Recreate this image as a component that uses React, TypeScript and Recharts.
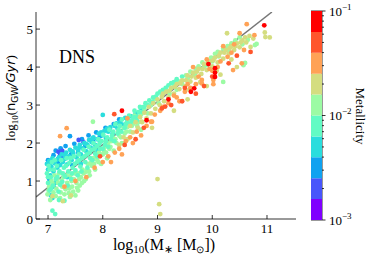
import { Bar, BarChart, ComposedChart, Line, ReferenceArea, Scatter, XAxis, YAxis } from 'recharts';

// metallicity bins, log10(Z) from -3 to -1 in 0.2 dex steps, rainbow colours
const CBAR_EDGES = [-3, -2.8, -2.6, -2.4, -2.2, -2, -1.8, -1.6, -1.4, -1.2, -1];
const BIN_COLORS = ['#8000ff', '#4856fb', '#10a2f0', '#2adddd', '#62fbc4', '#9cfba4', '#d4dd80', '#ffa256', '#ff562c', '#ff0000'];

type Pt = [number, number];

// [log10 M*, log10 nGW] per metallicity bin
const binIndigo: Pt[] = [
  [7.19, 1.77], [7.26, 1.79], [7.29, 1.66], [7.56, 2.08], [7.22, 1.68], [7.65, 2.02],
];
const binBlue: Pt[] = [
  [7.0, 1.55], [7.05, 1.35], [7.1, 1.68], [7.14, 1.8], [7.18, 1.48], [7.23, 1.86], [7.28, 1.62],
  [7.32, 1.92], [7.4, 2.18], [7.42, 1.7], [7.48, 1.98], [7.55, 1.75], [7.62, 2.1], [7.68, 1.92],
  [7.74, 2.2], [7.82, 2.05], [7.88, 2.28], [7.95, 2.18], [8.05, 2.4], [8.12, 2.35], [8.2, 2.5],
  [7.02, 1.05], [7.1, 0.85], [7.44, 1.42], [8.3, 2.62],
];
const binCyan: Pt[] = [
  [6.98, 1.45], [7.0, 1.3], [7.02, 1.52], [7.04, 1.15], [7.06, 1.38], [7.08, 1.6], [7.1, 1.25],
  [7.12, 1.47], [7.15, 1.55], [7.17, 1.35], [7.2, 1.62], [7.22, 1.42], [7.25, 1.7], [7.27, 1.5],
  [7.3, 1.58], [7.33, 1.75], [7.35, 1.44], [7.38, 1.65], [7.4, 1.82], [7.43, 1.55], [7.46, 1.72],
  [7.5, 1.88], [7.52, 1.62], [7.55, 1.8], [7.58, 1.95], [7.6, 1.7], [7.63, 1.86], [7.66, 2.0],
  [7.7, 1.78], [7.72, 1.95], [7.75, 2.08], [7.78, 1.88], [7.8, 2.02], [7.83, 2.15], [7.86, 1.95],
  [7.9, 2.1], [7.93, 2.25], [7.96, 2.05], [8.0, 2.2], [8.03, 2.32], [8.06, 2.12], [8.1, 2.3],
  [8.14, 2.42], [8.18, 2.25], [8.22, 2.45], [8.27, 2.38], [8.32, 2.55], [8.38, 2.48], [8.45, 2.62],
  [8.52, 2.7], [8.6, 2.78], [8.7, 2.92], [8.0, 2.74], [7.13, 0.95], [7.05, 0.62], [7.08, 0.55],
  [7.35, 1.1], [7.6, 1.45], [7.9, 1.8],
  [7.03, 1.42], [7.18, 1.58], [7.31, 1.68], [7.45, 1.78], [7.57, 1.88], [7.69, 1.98], [7.81, 2.12],
  [7.97, 2.28], [8.08, 2.38], [8.25, 2.52], [8.41, 2.66],
];
const binAqua: Pt[] = [
  [6.98, 1.2], [7.0, 0.95], [7.01, 1.4], [7.03, 0.75], [7.05, 1.1], [7.07, 1.5], [7.09, 0.88],
  [7.11, 1.3], [7.08, 0.22], [7.13, 0.13], [7.14, 1.05], [7.16, 1.4], [7.19, 0.72], [7.21, 1.25],
  [7.24, 1.55], [7.26, 0.98], [7.29, 1.35], [7.31, 1.12], [7.34, 1.6], [7.37, 1.25], [7.39, 1.48],
  [7.42, 1.05], [7.45, 1.35], [7.47, 1.65], [7.5, 1.28], [7.53, 1.5], [7.56, 1.7], [7.59, 1.38],
  [7.62, 1.6], [7.65, 1.82], [7.68, 1.5], [7.71, 1.7], [7.74, 1.9], [7.77, 1.6], [7.8, 1.82],
  [7.83, 2.0], [7.86, 1.72], [7.89, 1.92], [7.92, 2.1], [7.95, 1.85], [7.98, 2.05], [8.01, 2.22],
  [8.04, 1.95], [8.08, 2.15], [8.12, 2.35], [8.15, 2.1], [8.19, 2.3], [8.23, 2.5], [8.27, 2.25],
  [8.31, 2.45], [8.35, 2.62], [8.4, 2.4], [8.44, 2.55], [8.48, 2.72], [8.53, 2.58], [8.58, 2.85],
  [8.63, 2.7], [8.68, 2.95], [8.73, 2.82], [8.78, 3.05], [8.85, 3.12], [8.92, 3.2], [9.0, 3.3],
  [9.1, 3.4], [9.2, 3.52], [9.3, 3.6], [9.45, 3.75], [7.3, 0.48], [7.2, 0.5],
  [7.0, 1.1], [7.03, 1.3], [7.06, 0.8], [7.12, 1.55], [7.17, 1.1], [7.22, 0.9], [7.27, 1.2],
  [7.33, 1.4], [7.36, 0.88], [7.41, 1.6], [7.44, 1.2], [7.49, 1.45], [7.54, 1.15], [7.57, 1.55],
  [7.61, 1.25], [7.67, 1.65], [7.72, 1.35], [7.76, 1.75], [7.81, 1.55], [7.85, 1.85], [7.9, 1.65],
  [7.94, 1.98], [8.0, 1.85], [8.06, 2.05], [8.1, 1.9], [8.17, 2.2], [8.21, 2.05], [8.29, 2.35],
  [8.34, 2.3], [8.42, 2.5], [8.5, 2.5], [8.56, 2.68], [8.62, 2.6], [8.66, 2.82], [8.75, 2.95],
  [8.82, 3.0], [8.9, 3.08], [8.97, 3.22], [9.05, 3.35], [9.15, 3.45], [9.25, 3.58], [9.35, 3.68],
];
const binGreen: Pt[] = [
  [6.99, 0.65], [7.02, 0.85], [7.04, 0.5], [7.06, 1.0], [7.1, 0.7], [7.12, 1.15], [7.15, 0.8],
  [7.18, 0.95], [7.2, 1.2], [7.23, 0.7], [7.26, 0.85], [7.28, 1.1], [7.32, 0.78], [7.35, 0.95],
  [7.38, 0.68], [7.41, 1.15], [7.44, 0.85], [7.47, 1.05], [7.5, 0.62], [7.52, 0.95], [7.55, 1.2],
  [7.58, 0.88], [7.6, 1.1], [7.63, 1.3], [7.66, 1.0], [7.7, 1.25], [7.73, 1.45], [7.76, 1.15],
  [7.8, 1.4], [7.83, 1.6], [7.86, 1.3], [7.9, 1.55], [7.93, 1.75], [7.97, 1.45], [8.0, 1.7],
  [8.04, 1.9], [8.08, 1.6], [8.12, 1.85], [8.16, 2.05], [8.2, 1.8], [8.25, 2.0], [8.3, 2.2],
  [8.35, 2.0], [8.4, 2.25], [8.45, 2.42], [8.5, 2.3], [8.55, 2.5], [8.6, 2.65], [8.65, 2.55],
  [8.7, 2.75], [8.76, 2.9], [8.82, 2.78], [8.88, 3.0], [8.95, 3.15], [9.02, 3.05], [9.08, 3.28],
  [9.15, 3.4], [9.22, 3.3], [9.3, 3.5], [9.38, 3.62], [9.45, 3.55], [9.52, 3.78], [9.6, 3.88],
  [9.68, 3.8], [9.75, 4.02], [9.82, 4.12], [9.9, 4.05], [9.98, 4.25], [10.05, 4.35], [10.12, 4.28],
  [10.2, 4.48], [10.28, 4.55], [10.35, 4.62], [10.42, 4.7], [10.5, 4.78], [10.57, 4.05], [10.6, 4.11],
  [10.78, 4.58], [10.81, 4.61], [10.2, 3.61], [7.82, 2.56], [7.4, 0.58], [7.55, 0.75], [8.7, 2.35],
  [7.01, 0.75], [7.08, 0.95], [7.14, 0.6], [7.17, 1.05], [7.22, 0.55], [7.25, 1.0], [7.3, 0.65],
  [7.34, 1.15], [7.39, 0.8], [7.43, 1.0], [7.46, 0.72], [7.49, 1.2], [7.53, 0.82], [7.57, 1.05],
  [7.62, 0.95], [7.65, 1.2], [7.69, 1.05], [7.72, 1.3], [7.75, 1.25], [7.79, 1.5], [7.84, 1.45],
  [7.88, 1.65], [7.92, 1.5], [7.95, 1.7], [8.02, 1.8], [8.06, 1.75], [8.1, 2.0], [8.14, 1.9],
  [8.18, 2.15], [8.23, 2.1], [8.28, 2.3], [8.33, 2.15], [8.38, 2.4], [8.43, 2.3], [8.48, 2.55],
  [8.53, 2.45], [8.58, 2.72], [8.63, 2.45], [9.35, 3.4], [9.55, 3.7], [9.7, 3.95], [9.85, 4.0],
  [10.0, 4.15], [10.1, 4.4], [10.3, 4.45], [10.4, 4.58], [10.55, 4.6], [10.65, 4.72],
];
const binOlive: Pt[] = [
  [7.27, 0.47], [7.42, 0.62], [7.08, 0.6],
  [8.3, 1.95], [8.38, 2.15], [8.45, 2.1], [8.5, 2.45], [8.55, 2.28], [8.6, 2.55], [8.64, 2.4],
  [8.68, 2.68], [8.72, 2.55], [8.76, 2.8], [8.8, 2.65], [8.84, 2.95], [8.88, 2.78], [8.92, 3.05],
  [8.96, 2.9], [9.0, 3.15], [9.04, 3.0], [9.08, 3.22], [9.12, 3.1], [9.16, 3.35], [9.2, 3.2],
  [9.25, 3.45], [9.3, 3.3], [9.35, 3.55], [9.4, 3.42], [9.45, 3.65], [9.5, 3.5], [9.55, 3.78],
  [9.6, 3.62], [9.65, 3.85], [9.7, 3.72], [9.75, 3.95], [9.8, 3.82], [9.85, 4.08], [9.9, 3.92],
  [9.95, 4.15], [10.0, 4.02], [10.05, 4.25], [10.1, 4.12], [10.15, 4.38], [10.2, 4.22], [10.25, 4.45],
  [10.3, 4.35], [10.35, 4.55], [10.4, 4.45], [10.45, 4.62], [10.5, 4.52], [10.55, 4.7], [10.62, 4.65],
  [10.7, 4.53], [10.75, 4.75], [10.96, 4.91], [11.05, 4.78], [10.97, 4.79], [10.27, 4.89],
  [9.0, 1.05], [9.03, 0.39], [9.05, 0.13], [8.71, 2.56], [9.3, 2.85], [9.55, 3.15], [9.9, 3.5],
  [10.15, 3.8], [10.45, 4.0], [8.9, 2.4],
  [9.1, 3.3], [9.22, 3.38], [9.32, 3.48], [9.42, 3.58], [9.52, 3.65], [9.62, 3.75], [9.72, 3.88],
  [9.82, 3.95], [9.92, 4.1], [10.02, 4.18], [10.12, 4.3], [10.22, 4.38], [10.32, 4.5], [10.42, 4.55],
  [10.52, 4.65], [10.6, 4.78], [10.68, 4.82], [9.58, 3.4], [9.78, 3.6], [10.08, 3.9], [10.35, 4.2],
];
const binOrange: Pt[] = [
  [7.34, 2.39], [7.22, 2.18], [7.3, 0.85], [7.5, 1.0], [7.7, 1.1], [7.85, 1.35], [8.0, 1.5],
  [8.1, 1.65], [8.15, 1.5], [8.22, 1.75], [8.3, 1.85], [8.35, 1.7], [8.42, 2.05], [8.5, 2.15],
  [8.55, 2.0], [8.62, 2.3], [8.7, 2.2], [8.88, 2.56], [8.9, 2.56], [8.95, 2.75], [9.05, 2.85],
  [9.2, 3.05], [9.35, 3.2], [9.4, 3.1], [9.5, 3.35], [9.6, 3.45], [9.7, 3.55], [9.81, 3.66],
  [9.81, 3.57], [10.02, 3.66], [10.02, 3.55], [10.0, 3.9], [10.1, 4.0], [10.28, 4.27], [10.38, 3.92],
  [10.5, 4.89], [10.54, 4.1], [10.63, 5.13], [10.77, 4.84], [10.4, 4.6], [10.2, 4.55], [9.9, 4.2],
  [9.65, 4.0], [8.45, 2.65],
  [9.3, 3.25], [9.55, 3.55], [9.75, 3.75], [9.95, 3.95], [10.15, 4.15], [10.35, 4.38], [10.58, 4.45],
  [8.8, 2.45], [9.1, 2.95],
];
const binRedOrange: Pt[] = [
  [8.21, 2.76], [9.08, 2.91], [9.14, 2.96], [8.6, 2.1], [8.75, 2.4], [9.25, 3.0], [9.45, 3.1],
  [9.5, 3.45], [9.7, 3.3], [9.85, 3.5], [10.0, 3.75], [10.3, 4.1], [10.45, 4.3], [7.95, 1.65],
  [8.4, 1.95], [10.7, 4.4],
];
const binRed: Pt[] = [
  [8.35, 2.85], [9.61, 3.35], [9.67, 3.44], [10.05, 3.97], [10.05, 3.85], [10.05, 3.74],
  [9.93, 4.08], [10.95, 5.1], [9.2, 3.15], [8.8, 2.6],
];

// draw order (bin index into BIN_COLORS)
const LAYERS: [Pt[], number][] = [
  [binBlue, 2], [binIndigo, 1], [binCyan, 3], [binGreen, 5], [binAqua, 4],
  [binOlive, 6], [binOrange, 7], [binRedOrange, 8], [binRed, 9],
];

const FIT_LINE = [{ x: 6.78, y: 0.58 }, { x: 11.09, y: 5.45 }];
const X_DOMAIN: [number, number] = [6.78, 11.53];
const Y_DOMAIN: [number, number] = [0, 5.45];
const X_TICKS = [7, 8, 9, 10, 11];
const Y_TICKS = [0, 1, 2, 3, 4, 5];

const CBAR_ROW = [
  CBAR_EDGES.slice(1).reduce((row: any, e, i) => {
    row['b' + i] = e - CBAR_EDGES[i];
    return row;
  }, { name: 'z' }),
];
const CBAR_MAJOR = [0, 1, 2];
const CBAR_MINOR = [0, 1].flatMap((d) => [2, 3, 4, 5, 6, 7, 8, 9].map((k) => d + Math.log10(k)));

const SERIF = '"Liberation Serif", "Times New Roman", serif';
const SANS = '"DejaVu Sans", sans-serif';
const TICK = { stroke: '#000', strokeWidth: 0.8 };

const BottomTick = ({ x, y, payload }: any) => (
  <g>
    <line x1={x} y1={y} x2={x} y2={y - 4} {...TICK} />
    <text x={x} y={y + 14} textAnchor="middle" fontFamily={SERIF} fontSize={13} fill="#000">
      {payload.value}
    </text>
  </g>
);
const LeftTick = ({ x, y, payload }: any) => (
  <g>
    <line x1={x} y1={y} x2={x + 4} y2={y} {...TICK} />
    <text x={x - 3} y={y + 4.5} textAnchor="end" fontFamily={SERIF} fontSize={13} fill="#000">
      {payload.value}
    </text>
  </g>
);
const TopTick = ({ x, y }: any) => <line x1={x} y1={y} x2={x} y2={y + 4} {...TICK} />;
const RightTick = ({ x, y }: any) => <line x1={x} y1={y} x2={x - 4} y2={y} {...TICK} />;

const CbarTick = ({ x, y, payload }: any) => {
  const v = payload.value;
  const major = Math.abs(v - Math.round(v)) < 1e-6;
  if (!major) return <line x1={x} y1={y} x2={x + 2} y2={y} {...TICK} />;
  return (
    <g>
      <line x1={x} y1={y} x2={x + 3.5} y2={y} {...TICK} />
      <text x={x + 7} y={y + 4.5} fontFamily={SERIF} fontSize={13} fill="#000">
        <tspan>10</tspan>
        <tspan dy={-6} fontSize={9}>{'\u2212' + (3 - Math.round(v))}</tspan>
      </text>
    </g>
  );
};

export default function App() {
  return (
    <div style={{ position: 'absolute', left: 0, top: 0, width: 373, height: 261, background: '#fff' }}>
      <div style={{ position: 'absolute', left: 0, top: 0 }}>
        <ComposedChart width={373} height={261} margin={{ top: 12, right: 77, bottom: 0, left: 0 }}>
          <XAxis
            dataKey="x"
            type="number"
            domain={X_DOMAIN}
            allowDataOverflow
            ticks={X_TICKS}
            interval={0}
            height={42}
            tickSize={0}
            tickMargin={0}
            tick={BottomTick}
            axisLine={{ stroke: '#000', strokeWidth: 0.8 }}
          />
          <XAxis
            xAxisId="top"
            orientation="top"
            dataKey="x"
            type="number"
            domain={X_DOMAIN}
            allowDataOverflow
            ticks={X_TICKS}
            interval={0}
            height={0}
            tickSize={0}
            tickMargin={0}
            tick={TopTick}
            axisLine={{ stroke: '#000', strokeWidth: 0.8 }}
          />
          <YAxis
            dataKey="y"
            type="number"
            domain={Y_DOMAIN}
            allowDataOverflow
            ticks={Y_TICKS}
            interval={0}
            width={36}
            tickSize={0}
            tickMargin={0}
            tick={LeftTick}
            axisLine={{ stroke: '#000', strokeWidth: 0.8 }}
          />
          <YAxis
            yAxisId="right"
            orientation="right"
            dataKey="y"
            type="number"
            domain={Y_DOMAIN}
            allowDataOverflow
            ticks={Y_TICKS}
            interval={0}
            width={0}
            tickSize={0}
            tickMargin={0}
            tick={RightTick}
            axisLine={{ stroke: '#000', strokeWidth: 0.8 }}
          />
          {LAYERS.map(([pts, bin], i) => (
            <Scatter
              key={i}
              data={pts.map(([x, y]) => ({ x, y }))}
              isAnimationActive={false}
              shape={(p: any) => <circle cx={p.cx} cy={p.cy} r={2.4} fill={BIN_COLORS[bin]} />}
            />
          ))}
          <Line
            xAxisId="top"
            yAxisId="right"
            data={FIT_LINE}
            dataKey="y"
            type="linear"
            stroke="#777"
            strokeWidth={1.5}
            dot={false}
            isAnimationActive={false}
          />
        </ComposedChart>
      </div>

      <div style={{ position: 'absolute', left: 311, top: 0 }}>
        <BarChart width={61} height={261} data={CBAR_ROW} margin={{ top: 11, right: 0, bottom: 41, left: 0 }} barCategoryGap={0}>
          <XAxis dataKey="name" type="category" hide />
          <YAxis
            orientation="right"
            type="number"
            domain={[0, 2]}
            allowDataOverflow
            ticks={[...CBAR_MAJOR, ...CBAR_MINOR]}
            interval={0}
            width={50}
            tickSize={0}
            tickMargin={0}
            tick={CbarTick}
            axisLine={false}
          />
          {BIN_COLORS.map((c, i) => (
            <Bar key={i} dataKey={'b' + i} stackId="cb" fill={c} isAnimationActive={false} />
          ))}
          <ReferenceArea y1={0} y2={2} fill="none" stroke="#000" strokeWidth={0.8} ifOverflow="visible" />
        </BarChart>
      </div>

      <svg width={373} height={261} style={{ position: 'absolute', left: 0, top: 0, pointerEvents: 'none' }}>
        <text x={59} y={63} fontFamily={SERIF} fontSize={18} fill="#000">DNS</text>
        <text x={164} y={250} textAnchor="middle" fontFamily={SERIF} fontSize={16} fill="#000">
          <tspan>log</tspan>
          <tspan dy={3} fontSize={11}>10</tspan>
          <tspan dy={-3}>(M</tspan>
          <tspan dy={3} fontSize={11}>∗</tspan>
          <tspan dy={-3}> [M</tspan>
          <tspan dy={3} fontSize={10}>⊙</tspan>
          <tspan dy={-3}>])</tspan>
        </text>
        <text transform="translate(15,98) rotate(-90)" textAnchor="middle" fontFamily={SERIF} fontSize={13} fill="#000">
          <tspan>log</tspan>
          <tspan dy={3} fontSize={9}>10</tspan>
          <tspan dy={-3}>(</tspan>
          <tspan fontFamily={SANS}>n</tspan>
          <tspan dy={3} fontSize={9} fontFamily={SANS}>GW</tspan>
          <tspan dy={-3} fontFamily={SANS} fontStyle="italic">/Gyr</tspan>
          <tspan>)</tspan>
        </text>
        <text transform="translate(355.5,116) rotate(90)" textAnchor="middle" fontFamily={SERIF} fontSize={13} fill="#000">
          Metallicity
        </text>
      </svg>
    </div>
  );
}
